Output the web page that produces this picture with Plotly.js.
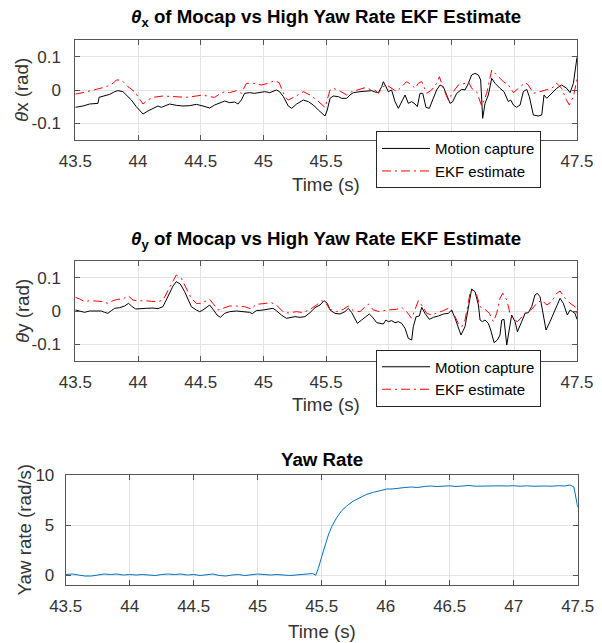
<!DOCTYPE html>
<html>
<head>
<meta charset="utf-8">
<script src="https://cdn.plot.ly/plotly-3.0.1.min.js"></script>
<style>html,body{margin:0;padding:0;background:#fff;}#chart{width:602px;height:643px;}</style>
</head>
<body>
<div id="chart"></div>
<script>
// ---------- data ----------
const timeTickVals = [43.5, 44, 44.5, 45, 45.5, 46, 46.5, 47, 47.5];
const timeTickText = ['43.5', '44', '44.5', '45', '45.5', '46', '46.5', '47', '47.5'];
const angleTickVals = [-0.1, 0, 0.1];
const angleTickText = ['-0.1', '0', '0.1'];
const yawTickVals = [0, 5, 10];
const yawTickText = ['0', '5', '10'];

const titleX = '<i>θ</i><sub>x</sub> of Mocap vs High Yaw Rate EKF Estimate';
const titleY = '<i>θ</i><sub>y</sub> of Mocap vs High Yaw Rate EKF Estimate';
const titleYaw = 'Yaw Rate';
const labelThetaX = '<i>θ</i>x (rad)';
const labelThetaY = '<i>θ</i>y (rad)';
const labelYaw = 'Yaw rate (rad/s)';
const labelTime = 'Time (s)';
const seriesNames = ['Motion capture', 'EKF estimate'];

// theta x, motion capture
const thetaXMocapTime = [43.500,43.561,43.614,43.667,43.681,43.689,43.721,43.774,43.814,43.840,43.880,43.907,43.947,43.986,44.018,44.040,44.079,44.119,44.159,44.186,44.226,44.252,44.305,44.359,44.412,44.465,44.518,44.571,44.611,44.651,44.691,44.731,44.771,44.797,44.824,44.850,44.890,44.930,44.970,45.010,45.050,45.103,45.129,
45.159,45.198,45.225,45.265,45.318,45.358,45.398,45.438,45.464,45.491,45.509,45.531,45.557,45.597,45.624,45.664,45.690,45.717,45.770,45.823,45.863,45.890,45.916,45.943,45.956,45.977,45.996,46.022,46.049,46.076,46.102,46.129,46.155,46.182,46.209,46.227,46.248,46.270,46.296,46.323,46.349,46.381,46.408,46.434,46.461,46.488,46.509,46.541,46.581,46.607,46.634,46.660,46.687,46.714,46.732,46.748,46.767,46.793,46.820,46.847,46.886,46.918,46.953,46.971,46.993,47.019,47.046,47.072,47.099,47.120,47.152,47.192,47.219,47.237,47.259,47.298,47.338,47.378,47.418,47.445,47.471,47.500];
const thetaXMocap = [-0.052,-0.048,-0.042,-0.040,-0.040,-0.022,-0.018,-0.013,-0.005,-0.002,-0.005,-0.015,-0.030,-0.050,-0.065,-0.072,-0.063,-0.055,-0.048,-0.052,-0.045,-0.042,-0.046,-0.048,-0.047,-0.043,-0.048,-0.054,-0.045,-0.038,-0.033,-0.038,-0.036,-0.042,-0.030,-0.010,-0.008,-0.010,-0.008,-0.005,-0.008,0.000,-0.005,
-0.020,-0.048,-0.055,-0.042,-0.030,-0.035,-0.045,-0.060,-0.070,-0.078,-0.060,-0.025,-0.018,-0.020,-0.025,-0.025,-0.015,-0.008,-0.005,-0.003,-0.002,-0.006,-0.008,0.010,0.025,0.010,-0.005,0.000,-0.035,-0.055,-0.035,-0.015,-0.040,-0.035,-0.042,-0.050,-0.010,-0.010,-0.052,-0.055,-0.030,0.000,0.015,0.010,-0.015,-0.040,-0.035,-0.010,0.002,0.000,0.020,0.045,0.050,0.045,0.030,-0.085,-0.040,-0.015,0.035,0.020,0.005,-0.005,-0.035,-0.030,-0.045,-0.052,-0.045,-0.005,0.002,-0.020,-0.075,-0.078,-0.075,-0.015,-0.025,-0.010,0.005,0.015,0.005,-0.008,0.020,0.098];

// theta x, EKF estimate
const thetaXEkfTime = [43.500,43.561,43.667,43.747,43.801,43.827,43.867,43.880,43.920,43.973,44.013,44.040,44.079,44.119,44.199,44.279,44.385,44.465,44.518,44.571,44.611,44.651,44.691,44.731,44.784,44.824,44.864,44.917,44.983,45.037,45.090,45.125,
45.172,45.198,45.252,45.318,45.371,45.424,45.491,45.531,45.557,45.610,45.664,45.704,45.757,45.810,45.850,45.890,45.916,45.956,45.983,46.022,46.062,46.102,46.142,46.182,46.209,46.235,46.262,46.302,46.341,46.381,46.403,46.434,46.474,46.514,46.554,46.607,46.634,46.660,46.700,46.740,46.780,46.820,46.860,46.913,46.953,46.993,47.033,47.086,47.112,47.152,47.205,47.259,47.298,47.338,47.378,47.413,47.439,47.471,47.500];
const thetaXEkf = [-0.012,-0.008,0.002,0.010,0.020,0.030,0.030,0.025,0.010,-0.005,-0.025,-0.042,-0.030,-0.022,-0.018,-0.020,-0.022,-0.018,-0.015,-0.020,-0.022,-0.012,-0.005,-0.008,-0.002,-0.010,0.020,0.020,0.015,0.020,0.028,0.022,
-0.020,-0.030,-0.020,-0.005,-0.015,-0.030,-0.052,0.000,0.005,-0.003,-0.015,-0.005,0.002,0.007,0.002,0.000,-0.010,0.010,0.015,0.005,-0.005,0.010,0.025,0.015,0.005,0.020,0.025,-0.010,0.000,0.020,0.040,0.005,-0.030,-0.005,0.015,0.020,0.025,0.005,-0.005,-0.048,-0.010,0.060,0.045,0.025,0.015,-0.008,0.005,0.022,0.015,-0.010,-0.005,0.000,0.005,0.020,0.005,-0.028,-0.045,-0.020,0.032];

// theta y, motion capture
const thetaYMocapTime = [43.500,43.535,43.574,43.614,43.667,43.707,43.734,43.760,43.787,43.814,43.854,43.893,43.925,43.947,43.981,44.026,44.066,44.119,44.159,44.199,44.239,44.279,44.305,44.337,44.372,44.398,44.425,44.465,44.492,44.518,44.550,44.571,44.598,44.630,44.656,44.691,44.731,44.784,44.837,44.890,44.911,44.943,44.997,45.050,45.076,45.103,45.143,45.183,
45.212,45.252,45.291,45.331,45.371,45.411,45.451,45.483,45.509,45.531,45.571,45.610,45.650,45.677,45.704,45.730,45.749,45.783,45.823,45.844,45.871,45.903,45.929,45.956,45.977,45.996,46.022,46.049,46.076,46.102,46.129,46.155,46.182,46.195,46.217,46.243,46.262,46.288,46.323,46.355,46.395,46.435,46.474,46.501,46.528,46.554,46.575,46.607,46.634,46.660,46.687,46.714,46.727,46.745,46.767,46.793,46.812,46.839,46.865,46.886,46.900,46.918,46.940,46.961,46.979,47.006,47.025,47.059,47.086,47.112,47.139,47.165,47.184,47.205,47.232,47.253,47.285,47.325,47.365,47.391,47.423,47.445,47.484,47.500];
const thetaYMocap = [0.003,0.000,-0.004,0.000,0.001,0.000,-0.004,-0.007,0.001,0.008,0.010,0.015,0.023,0.015,0.006,0.008,0.008,0.009,0.007,0.013,0.043,0.075,0.088,0.081,0.058,0.033,0.013,0.003,-0.002,0.003,0.013,0.018,0.005,-0.012,-0.019,-0.007,-0.002,0.000,-0.002,-0.004,-0.008,0.001,0.003,0.006,0.008,0.001,-0.012,-0.022,
-0.019,-0.017,-0.019,-0.017,-0.005,0.010,0.018,0.031,0.023,0.003,-0.007,-0.009,-0.002,0.008,-0.005,-0.022,-0.037,-0.027,-0.015,-0.009,-0.019,-0.035,-0.037,-0.039,-0.027,-0.032,-0.029,-0.035,-0.032,-0.037,-0.052,-0.082,-0.087,-0.047,-0.017,-0.015,0.011,-0.007,-0.025,-0.019,-0.015,-0.009,-0.007,0.003,-0.022,-0.052,-0.072,-0.047,0.013,0.066,0.058,0.018,-0.027,-0.032,-0.027,-0.037,-0.057,-0.095,-0.087,-0.072,-0.027,-0.025,-0.102,-0.047,-0.012,-0.032,-0.062,-0.032,-0.007,-0.005,0.013,0.048,0.053,0.043,-0.007,-0.057,-0.032,0.003,0.038,0.023,-0.012,0.003,-0.007,-0.025];

// theta y, EKF estimate
const thetaYEkfTime = [43.500,43.535,43.574,43.614,43.667,43.721,43.760,43.800,43.840,43.880,43.920,43.960,44.000,44.053,44.106,44.159,44.199,44.239,44.279,44.305,44.345,44.385,44.425,44.465,44.505,44.545,44.571,44.603,44.638,44.678,44.731,44.784,44.850,44.904,44.943,44.997,45.063,45.103,45.156,45.196,
45.265,45.318,45.371,45.424,45.464,45.499,45.531,45.584,45.637,45.677,45.717,45.770,45.810,45.836,45.876,45.929,45.983,46.022,46.062,46.102,46.142,46.182,46.209,46.235,46.270,46.302,46.341,46.381,46.434,46.474,46.514,46.554,46.581,46.607,46.647,46.668,46.700,46.727,46.767,46.801,46.833,46.860,46.886,46.908,46.940,46.966,46.993,47.025,47.059,47.099,47.139,47.179,47.219,47.259,47.298,47.338,47.365,47.405,47.445,47.484,47.500];
const thetaYEkf = [0.041,0.036,0.028,0.031,0.030,0.028,0.023,0.031,0.035,0.036,0.046,0.033,0.030,0.031,0.029,0.028,0.033,0.063,0.093,0.108,0.098,0.068,0.038,0.023,0.023,0.031,0.035,0.020,0.003,0.008,0.015,0.015,0.013,0.006,0.020,0.022,0.025,0.018,-0.002,-0.006,
-0.002,-0.005,0.005,0.018,0.031,0.023,0.005,-0.002,0.005,0.015,0.001,-0.002,0.013,0.021,0.003,-0.002,0.003,0.005,0.005,0.011,-0.002,-0.022,0.005,0.031,0.013,-0.007,-0.012,-0.007,0.001,0.008,-0.007,-0.037,-0.047,-0.027,0.053,0.063,0.048,0.013,0.005,-0.007,-0.032,-0.007,0.038,0.053,0.033,-0.007,-0.025,-0.032,-0.017,-0.002,0.005,0.023,0.033,0.018,0.028,0.053,0.060,0.038,0.023,0.013,-0.017];

// yaw rate
const yawTime = [43.5,43.55,43.6,43.65,43.7,43.75,43.8,43.85,43.9,43.95,44.0,44.05,44.1,44.15,44.2,44.25,44.3,44.35,44.4,44.45,44.5,44.55,44.6,44.65,44.7,44.75,44.8,44.85,44.9,44.95,45.0,45.05,45.1,45.15,45.2,45.25,45.3,45.35,45.4,45.43,45.453,45.474,45.5,45.526,45.552,45.578,45.617,45.656,45.695,45.747,45.799,45.852,45.904,45.956,46.008,46.05,46.1,46.15,46.2,46.25,46.3,46.35,46.4,46.45,46.5,46.55,46.6,46.65,46.7,46.75,46.8,46.85,46.9,46.95,47.0,47.05,47.1,47.15,47.2,47.25,47.3,47.35,47.4,47.44,47.47,47.5];
const yawRate = [0.05,0.1,0.0,-0.1,-0.1,0.0,0.1,0.05,0.1,0.0,0.05,0.0,0.05,0.0,-0.05,0.05,0.1,0.05,0.1,0.0,0.05,-0.05,0.05,0.1,-0.05,-0.1,0.0,0.05,-0.05,0.05,0.1,0.05,0.0,0.05,0.0,-0.05,0.0,0.05,0.05,0.15,-0.03,0.67,1.83,3.0,4.0,4.83,5.73,6.43,6.9,7.4,7.77,8.07,8.27,8.43,8.6,8.6,8.7,8.75,8.8,8.75,8.85,8.9,8.85,8.9,8.92,8.85,8.9,8.95,8.88,8.9,8.93,8.88,8.92,8.9,8.93,8.87,8.92,8.88,8.92,8.9,8.88,8.93,8.9,9.0,8.8,6.8];

// ---------- styling ----------
const W = 602, H = 643;
const FONT = 'Liberation Sans, Arial, Helvetica, sans-serif';
const TXT = '#333333';
const px = v => v / W;
const py = v => 1 - v / H;

function axisStyle(extra) {
  return Object.assign({
    showline: true, linecolor: '#555555', linewidth: 1, mirror: 'ticks',
    ticks: 'inside', ticklen: 5, tickwidth: 1, tickcolor: '#555555',
    showgrid: true, gridcolor: '#e3e3e3', gridwidth: 1, zeroline: false,
    tickfont: {family: FONT, size: 17, color: TXT},
    tickmode: 'array', fixedrange: true
  }, extra);
}

const black = {color: '#000000', width: 1};
const red = {color: '#ff0000', width: 1, dash: '9px,4px,2px,4px'};

const traces = [
  {x: thetaXMocapTime, y: thetaXMocap, xaxis: 'x', yaxis: 'y', mode: 'lines', name: seriesNames[0], line: black, legend: 'legend'},
  {x: thetaXEkfTime, y: thetaXEkf, xaxis: 'x', yaxis: 'y', mode: 'lines', name: seriesNames[1], line: red, legend: 'legend'},
  {x: thetaYMocapTime, y: thetaYMocap, xaxis: 'x2', yaxis: 'y2', mode: 'lines', name: seriesNames[0], line: black, legend: 'legend2'},
  {x: thetaYEkfTime, y: thetaYEkf, xaxis: 'x2', yaxis: 'y2', mode: 'lines', name: seriesNames[1], line: red, legend: 'legend2'},
  {x: yawTime, y: yawRate, xaxis: 'x3', yaxis: 'y3', mode: 'lines', name: 'Yaw rate', line: {color: '#0072bd', width: 1}, showlegend: false}
];

const legendStyle = (ytop) => ({
  x: px(376), y: py(ytop), xref: 'paper', yref: 'paper', xanchor: 'left', yanchor: 'top',
  bgcolor: '#ffffff', bordercolor: '#262626', borderwidth: 1,
  font: {family: FONT, size: 15, color: '#000000'}, itemwidth: 48, traceorder: 'normal'
});

const p12x = [px(75.3), px(577)];
const p3x = [px(65.7), px(577.7)];

const layout = {
  width: W, height: H,
  margin: {l: 0, r: 0, t: 0, b: 0, pad: 0},
  paper_bgcolor: '#ffffff', plot_bgcolor: '#ffffff',
  showlegend: true,
  xaxis: axisStyle({domain: p12x, anchor: 'y', range: [43.5, 47.5], tickvals: timeTickVals, ticktext: timeTickText, ticklabelstandoff: 6}),
  yaxis: axisStyle({domain: [py(140), py(40)], anchor: 'x', range: [-0.15, 0.15], tickvals: angleTickVals, ticktext: angleTickText, ticklabelstandoff: 10}),
  xaxis2: axisStyle({domain: p12x, anchor: 'y2', range: [43.5, 47.5], tickvals: timeTickVals, ticktext: timeTickText, ticklabelstandoff: 6}),
  yaxis2: axisStyle({domain: [py(361), py(261)], anchor: 'x2', range: [-0.15, 0.15], tickvals: angleTickVals, ticktext: angleTickText, ticklabelstandoff: 10}),
  xaxis3: axisStyle({domain: p3x, anchor: 'y3', range: [43.5, 47.5], tickvals: timeTickVals, ticktext: timeTickText, ticklabelstandoff: 6}),
  yaxis3: axisStyle({domain: [py(585), py(475)], anchor: 'x3', range: [-1, 10], tickvals: yawTickVals, ticktext: yawTickText, ticklabelstandoff: 7}),
  legend: legendStyle(131.2),
  legend2: legendStyle(349.5),
  annotations: [
    {text: titleX, x: px(326), y: py(18.3), xref: 'paper', yref: 'paper', xanchor: 'center', yanchor: 'middle', showarrow: false, font: {family: FONT, size: 18.7, color: '#000', weight: 'bold'}},
    {text: titleY, x: px(326), y: py(239.5), xref: 'paper', yref: 'paper', xanchor: 'center', yanchor: 'middle', showarrow: false, font: {family: FONT, size: 18.7, color: '#000', weight: 'bold'}},
    {text: titleYaw, x: px(321.7), y: py(459.3), xref: 'paper', yref: 'paper', xanchor: 'center', yanchor: 'middle', showarrow: false, font: {family: FONT, size: 18.7, color: '#000', weight: 'bold'}},
    {text: labelTime, x: px(326), y: py(184.2), xref: 'paper', yref: 'paper', xanchor: 'center', yanchor: 'middle', showarrow: false, font: {family: FONT, size: 18.7, color: TXT}},
    {text: labelTime, x: px(326), y: py(404.3), xref: 'paper', yref: 'paper', xanchor: 'center', yanchor: 'middle', showarrow: false, font: {family: FONT, size: 18.7, color: TXT}},
    {text: labelTime, x: px(321.7), y: py(631.7), xref: 'paper', yref: 'paper', xanchor: 'center', yanchor: 'middle', showarrow: false, font: {family: FONT, size: 18.7, color: TXT}},
    {text: labelThetaX, x: px(22), y: py(90), xref: 'paper', yref: 'paper', xanchor: 'center', yanchor: 'middle', textangle: -90, showarrow: false, font: {family: FONT, size: 18.7, color: TXT}},
    {text: labelThetaY, x: px(22), y: py(311), xref: 'paper', yref: 'paper', xanchor: 'center', yanchor: 'middle', textangle: -90, showarrow: false, font: {family: FONT, size: 18.7, color: TXT}},
    {text: labelYaw, x: px(23.5), y: py(530), xref: 'paper', yref: 'paper', xanchor: 'center', yanchor: 'middle', textangle: -90, showarrow: false, font: {family: FONT, size: 18.7, color: TXT}}
  ]
};

Plotly.newPlot('chart', traces, layout, {displayModeBar: false, staticPlot: true});
</script>
</body>
</html>
